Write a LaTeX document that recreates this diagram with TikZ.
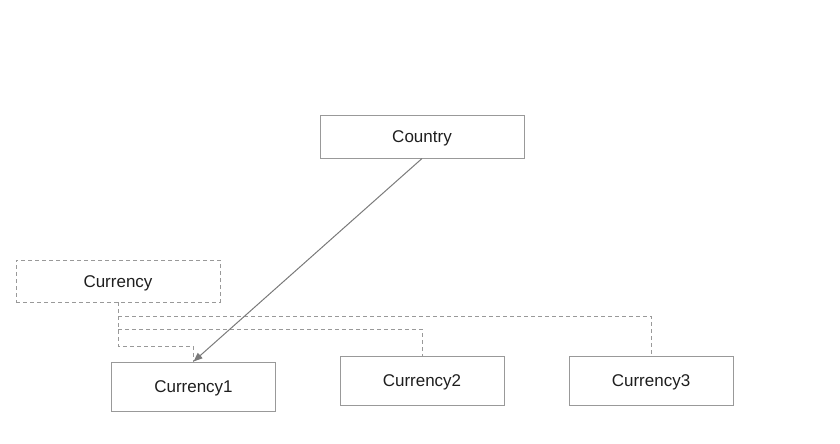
\documentclass[tikz,border=0pt]{standalone}
\usepackage{fontspec}
\setmainfont{Liberation Sans}
\usetikzlibrary{arrows.meta}
\definecolor{edgegray}{HTML}{999999}
\definecolor{inkgray}{HTML}{1E1E1E}
\tikzset{
  box/.style={draw=edgegray, line width=1pt, minimum width=164pt, minimum height=48pt,
    inner sep=0pt, text height=12.2pt, text depth=0pt, text=inkgray,
    font=\fontsize{17}{20}\selectfont},
  dashbox/.style={box, dashed, dash pattern=on 4pt off 3pt, line width=0.9pt},
  dashlink/.style={draw=edgegray, line width=0.9pt, dash pattern=on 4pt off 3pt},
  pointer/.style={draw=edgegray!80!black, line width=1pt, -{Triangle[length=9pt,width=7pt]}}
}
\begin{document}
\begin{tikzpicture}[x=1pt,y=-1pt]
  \useasboundingbox (0,0) rectangle (840,444);
  \node[box, minimum width=204pt, minimum height=43pt] (country) at (422,136.5) {Country};
  \node[dashbox, minimum width=204pt, minimum height=42pt] (cur) at (118,281) {Currency};
  \node[box, minimum height=49pt] (cu1) at (193.5,386.5) {Currency1};
  \node[box, minimum height=49pt] (cu2) at (422,380.5) {Currency2};
  \node[box, minimum height=49pt] (cu3) at (651,380.5) {Currency3};
  % dashed fan out of Currency
  \draw[dashlink] (cur.south) -- ++(0,44) -| (cu1.north);
  \draw[dashlink] (cur.south) ++(0,27) -| (cu2.north);
  \draw[dashlink] (cur.south) ++(0,14) -| (cu3.north);
  \draw[pointer] (country.south) -- (cu1.north);
\end{tikzpicture}
\end{document}
